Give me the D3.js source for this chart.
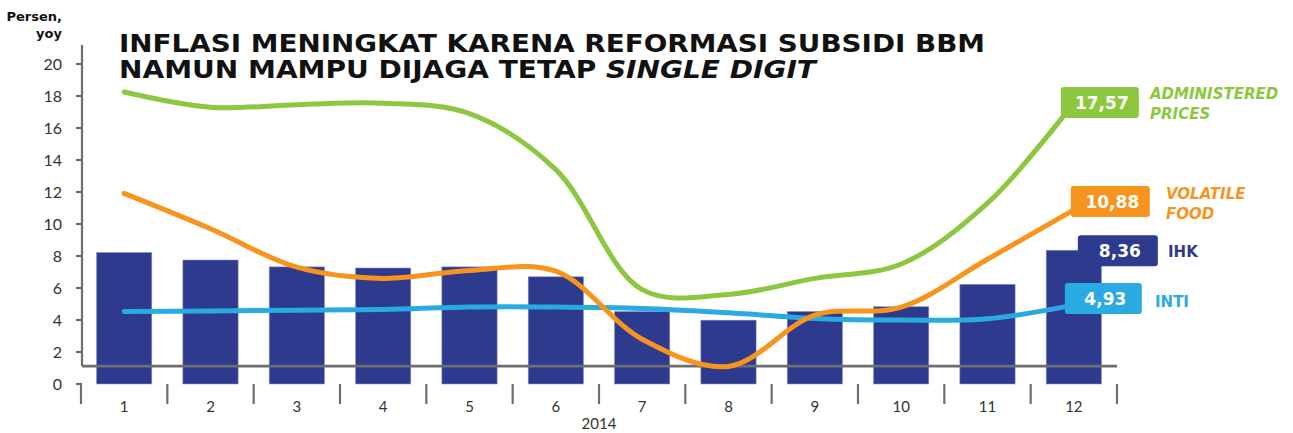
<!DOCTYPE html>
<html>
<head>
<meta charset="utf-8">
<script src="https://cdn.jsdelivr.net/npm/d3@7"></script>
<style>
  body { margin: 0; background: #fff; }
  svg { display: block; font-family: "DejaVu Sans", sans-serif; }
</style>
</head>
<body>
<svg width="1293" height="433"></svg>
<script>
// data, 2014, persen yoy
var months = ['1','2','3','4','5','6','7','8','9','10','11','12'];
var ihk = [8.22, 7.75, 7.32, 7.25, 7.32, 6.70, 4.53, 3.99, 4.53, 4.83, 6.23, 8.36];
var inti = [4.53, 4.57, 4.61, 4.66, 4.81, 4.81, 4.72, 4.45, 4.10, 4.00, 4.08, 4.93];
var volatileFood = [11.91, 9.70, 7.30, 6.60, 7.10, 7.05, 2.80, 1.10, 4.30, 4.80, 7.80, 10.88];
var adminPrices = [18.25, 17.30, 17.45, 17.55, 16.90, 13.40, 5.90, 5.60, 6.60, 7.50, 11.30, 17.57];
var yTicks = [0, 2, 4, 6, 8, 10, 12, 14, 16, 18, 20];
var yearLabel = '2014';

var navy = '#2d3a8e', green = '#8dc63f', orange = '#f7941d', blue = '#29abe2', grey = '#6d6e71';

var svg = d3.select('svg');

var x = d3.scaleBand().domain(months).range([81, 1117]).padding(0);
var y = d3.scaleLinear().domain([0, 20]).range([384, 64]);
var barW = x.bandwidth() * 0.64;
var cx = function (d) { return x(d) + x.bandwidth() / 2; };

// bars
svg.append('g').selectAll('rect').data(ihk).enter().append('rect')
  .attr('x', function (d, i) { return cx(months[i]) - barW / 2; })
  .attr('y', function (d) { return y(d); })
  .attr('width', barW)
  .attr('height', function (d) { return y(0) - y(d); })
  .attr('fill', navy)
  .attr('stroke', '#8d93c4')
  .attr('stroke-width', 0.6);

// y axis
var yAxis = svg.append('g').attr('stroke', grey).attr('stroke-width', 2.2).attr('fill', 'none');
yAxis.append('line').attr('x1', 82).attr('x2', 82).attr('y1', 45).attr('y2', y(1.12));
yAxis.selectAll('line.tk').data(yTicks).enter().append('line').attr('class', 'tk')
  .attr('x1', 76).attr('x2', 82)
  .attr('y1', function (d) { return y(d); }).attr('y2', function (d) { return y(d); });

svg.append('g').selectAll('text').data(yTicks).enter().append('text')
  .attr('x', 62).attr('y', function (d) { return y(d); })
  .attr('dy', '0.35em').attr('text-anchor', 'end')
  .attr('font-family', 'Lato, sans-serif').attr('font-size', 16).attr('fill', '#333')
  .text(function (d) { return d; });

// baseline gray line
svg.append('line').attr('x1', 82).attr('x2', 1117)
  .attr('y1', y(1.12)).attr('y2', y(1.12))
  .attr('stroke', grey).attr('stroke-width', 2.6);

// x separators
var seps = months.map(function (m) { return x(m); }).concat([x(months[11]) + x.bandwidth()]);
svg.append('g').selectAll('line').data(seps).enter().append('line')
  .attr('x1', function (d) { return d; }).attr('x2', function (d) { return d; })
  .attr('y1', y(0)).attr('y2', 404)
  .attr('stroke', grey).attr('stroke-width', 2.2);

svg.append('g').selectAll('text').data(months).enter().append('text')
  .attr('x', function (d) { return cx(d); }).attr('y', 412)
  .attr('text-anchor', 'middle')
  .attr('font-family', 'Lato, sans-serif').attr('font-size', 15).attr('fill', '#333')
  .text(function (d) { return d; });

svg.append('text').attr('x', (x(months[6]) + x(months[5]) + x.bandwidth()) / 2).attr('y', 429)
  .attr('text-anchor', 'middle')
  .attr('font-family', 'Lato, sans-serif').attr('font-size', 15).attr('fill', '#333')
  .text(yearLabel);

// lines
var line = d3.line()
  .x(function (d, i) { return cx(months[i]); })
  .y(function (d) { return y(d); })
  .curve(d3.curveCatmullRom.alpha(0.5));

[[inti, blue], [volatileFood, orange], [adminPrices, green]].forEach(function (s) {
  svg.append('path').datum(s[0]).attr('d', line)
    .attr('fill', 'none').attr('stroke', s[1]).attr('stroke-width', 5)
    .attr('stroke-linecap', 'round');
});

// end labels
var last = months[11];
var labels = [
  { v: adminPrices[11], c: green, dx: -13, w: 78, dy: -16, name: ['ADMINISTERED', 'PRICES'], italic: true, tx: 1150, ty: -9 },
  { v: volatileFood[11], c: orange, dx: -3, w: 79, dy: -24, name: ['VOLATILE', 'FOOD'], italic: true, tx: 1166, ty: -8 },
  { v: ihk[11], c: navy, dx: 4, w: 80, dy: -15, name: ['IHK'], italic: false, tx: 1168, ty: 0 },
  { v: inti[11], c: blue, dx: -9, w: 77, dy: -22, name: ['INTI'], italic: false, tx: 1155, ty: 2 }
];
labels.forEach(function (l) {
  var x0 = cx(last) + l.dx, y0 = y(l.v) + l.dy;
  svg.append('rect').attr('x', x0).attr('y', y0).attr('width', l.w).attr('height', 31)
    .attr('rx', 3).attr('fill', l.c);
  svg.append('text').attr('x', x0 + l.w / 2 + 2).attr('y', y0 + 16).attr('dy', '0.36em')
    .attr('text-anchor', 'middle').attr('fill', '#fff')
    .attr('font-weight', 'bold').attr('font-size', 17)
    .text(d3.format('.2f')(l.v).replace('.', ','));
  var t = svg.append('text').attr('fill', l.c).attr('font-weight', 'bold').attr('font-size', 15)
    .attr('font-style', l.italic ? 'italic' : 'normal');
  l.name.forEach(function (n, i) {
    t.append('tspan').attr('x', l.tx).attr('y', y0 + 16 + l.ty + i * 20).attr('dy', '0.36em').text(n);
  });
});

// title
var title = svg.append('g').attr('font-weight', 'bold').attr('font-size', 25).attr('fill', '#111');
title.append('text').attr('x', 119).attr('y', 52).attr('textLength', 866)
  .attr('lengthAdjust', 'spacingAndGlyphs')
  .text('INFLASI MENINGKAT KARENA REFORMASI SUBSIDI BBM');
var t2 = title.append('text').attr('x', 119).attr('y', 78).attr('textLength', 697)
  .attr('lengthAdjust', 'spacingAndGlyphs');
t2.append('tspan').text('NAMUN MAMPU DIJAGA TETAP ');
t2.append('tspan').attr('font-style', 'italic').text('SINGLE DIGIT');

// unit label
var unit = svg.append('text').attr('font-weight', 'bold').attr('font-size', 13)
  .attr('text-anchor', 'end').attr('fill', '#111');
unit.append('tspan').attr('x', 62).attr('y', 21).text('Persen,');
unit.append('tspan').attr('x', 62).attr('y', 38).text('yoy');
</script>
</body>
</html>
